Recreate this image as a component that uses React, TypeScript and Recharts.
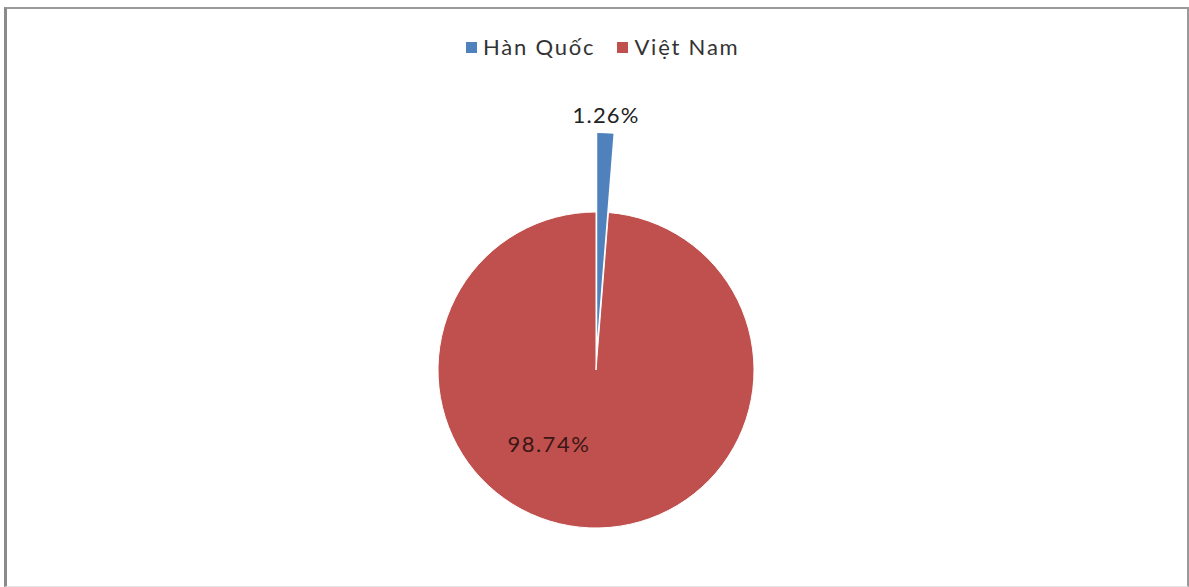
import React from 'react';
import { PieChart, Pie, Cell } from 'recharts';

const countries = ['Hàn Quốc', 'Việt Nam'];
const shares = [1.26, 98.74];
const colors = ['#4F81BD', '#C0504D'];

const data = countries.map((name, i) => ({ name, value: shares[i] }));

const RAD = Math.PI / 180;
const FONT = 'Lato, "Open Sans", sans-serif';

const ChartLegend = () => (
  <div style={{ position: 'absolute', top: 33, left: 466, display: 'flex', gap: 22, fontFamily: FONT, fontSize: 22, letterSpacing: 1.8, color: '#333', lineHeight: '28px' }}>
    {countries.map((c, i) => (
      <div key={c} style={{ display: 'flex', alignItems: 'center', gap: 6 }}>
        <span style={{ display: 'inline-block', width: 11, height: 11, background: colors[i] }} />
        <span>{c}</span>
      </div>
    ))}
  </div>
);

const outsideLabel = (p: any) => {
  if (p.index !== 0) return null;
  const r = p.outerRadius + 19;
  const x = p.cx + r * Math.cos(-p.midAngle * RAD);
  const y = p.cy + r * Math.sin(-p.midAngle * RAD);
  return (
    <text x={x} y={y} textAnchor="middle" dominantBaseline="central" fontFamily={FONT} fontSize={22} letterSpacing={1.2} fill="#222">
      {`${p.value}%`}
    </text>
  );
};

const insideLabel = (p: any) => {
  if (p.index !== 1) return null;
  const r = p.outerRadius * 0.58;
  const a = 233;
  const x = p.cx + r * Math.cos(a * RAD) + 8;
  const y = p.cy - r * Math.sin(a * RAD);
  return (
    <text x={x} y={y} textAnchor="middle" dominantBaseline="central" fontFamily={FONT} fontSize={22} letterSpacing={1.5} fill="#3a1616">
      {`${p.value}%`}
    </text>
  );
};

const layer: React.CSSProperties = { position: 'absolute', left: 0, top: 0 };

export default function App() {
  const cx = 596;
  const cy = 370;
  const R = 158;
  const Rb = 205;
  const explode = 32;
  const mid = 90 - (shares[0] / 100) * 180;
  const bx = cx + explode * Math.cos(mid * RAD);
  const by = cy - explode * Math.sin(mid * RAD);

  return (
    <div style={{ position: 'absolute', left: 0, top: 0, width: 1189, height: 587, background: '#fff' }}>
      <div style={{ position: 'absolute', left: 4, top: 7, width: 1180, height: 577, borderLeft: '3px solid #8a8a8a', borderTop: '2px solid #9a9a9a', borderRight: '2px solid #9a9a9a', borderBottom: '1px solid #e6e6e6' }} />
      <ChartLegend />
      {/* Việt Nam slice */}
      <div style={layer}>
        <PieChart width={1189} height={587} margin={{ top: 0, right: 0, bottom: 0, left: 0 }}>
          <Pie
            data={data}
            dataKey="value"
            nameKey="name"
            cx={cx}
            cy={cy}
            outerRadius={R}
            startAngle={90}
            endAngle={-270}
            stroke="#fff"
            strokeWidth={1}
            labelLine={false}
            label={insideLabel}
            isAnimationActive={false}
          >
            {data.map((d, i) => (
              <Cell key={d.name} fill={colors[i]} fillOpacity={i === 1 ? 1 : 0} strokeOpacity={i === 1 ? 1 : 0} />
            ))}
          </Pie>
        </PieChart>
      </div>
      {/* exploded Hàn Quốc slice, on top */}
      <div style={layer}>
        <PieChart width={1189} height={587} margin={{ top: 0, right: 0, bottom: 0, left: 0 }}>
          <Pie
            data={data}
            dataKey="value"
            nameKey="name"
            cx={bx}
            cy={by}
            outerRadius={Rb}
            startAngle={90}
            endAngle={-270}
            stroke="none"
            labelLine={false}
            label={outsideLabel}
            isAnimationActive={false}
          >
            {data.map((d, i) => (
              <Cell key={d.name} fill={colors[i]} fillOpacity={i === 0 ? 1 : 0} />
            ))}
          </Pie>
        </PieChart>
      </div>
    </div>
  );
}
